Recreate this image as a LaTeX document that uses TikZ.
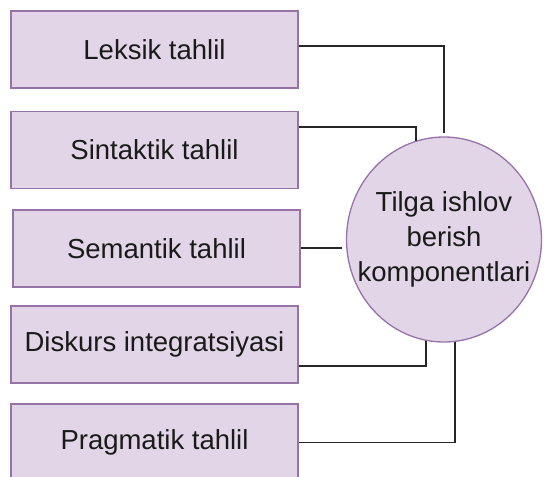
\documentclass[tikz,border=0pt]{standalone}
\usepackage{fontspec}
\setmainfont{Liberation Sans}
\usetikzlibrary{shapes.geometric}
\definecolor{boxfill}{HTML}{E1D5E7}
\definecolor{boxline}{HTML}{9673A6}
\definecolor{inktext}{HTML}{1A1A1A}
\tikzset{
  stage/.style={draw=boxline, fill=boxfill, line width=1.3pt, minimum width=287pt, minimum height=77pt, inner sep=0pt, text=inktext, font=\fontsize{27.5}{34}\selectfont},
  hub/.style={ellipse, draw=boxline, fill=boxfill, line width=1.3pt, minimum width=195pt, minimum height=205pt, inner xsep=-22pt, inner ysep=0pt, align=center, text=inktext, font=\fontsize{27.5}{35}\selectfont},
  link/.style={draw=black!85, line width=1.8pt}
}
\begin{document}
\begin{tikzpicture}[x=1pt,y=-1pt]
                \useasboundingbox (0,0) rectangle (545,476);
                \node[stage] (leksik) at (154.5,49.5) {Leksik tahlil};
                \node[stage] (sintaktik) at (154.5,150) {Sintaktik tahlil};
                \node[stage] (semantik) at (156.5,248.5) {Semantik tahlil};
                \node[stage] (diskurs) at (154.5,344.5) {Diskurs integratsiyasi};
                \node[stage] (pragmatik) at (154.5,442.5) {Pragmatik tahlil};
                \node[hub] (tilga) at (444,239.5) {Tilga ishlov\\berish\\komponentlari};

                \draw[link] ([yshift=3.5pt]leksik.east) -| ([yshift=3pt]tilga.north); \draw[link] ([yshift=23pt]sintaktik.east) -| (tilga.106);
                \draw[link, shorten >=4pt] ([yshift=0.8pt]semantik.east) to ([yshift=0.8pt]semantik.east -| tilga.west); \draw[link] ([yshift=-21.5pt]diskurs.east) -| (tilga.260); \draw[link] (pragmatik.east) -| (tilga.276);
            \end{tikzpicture}
\end{document}
